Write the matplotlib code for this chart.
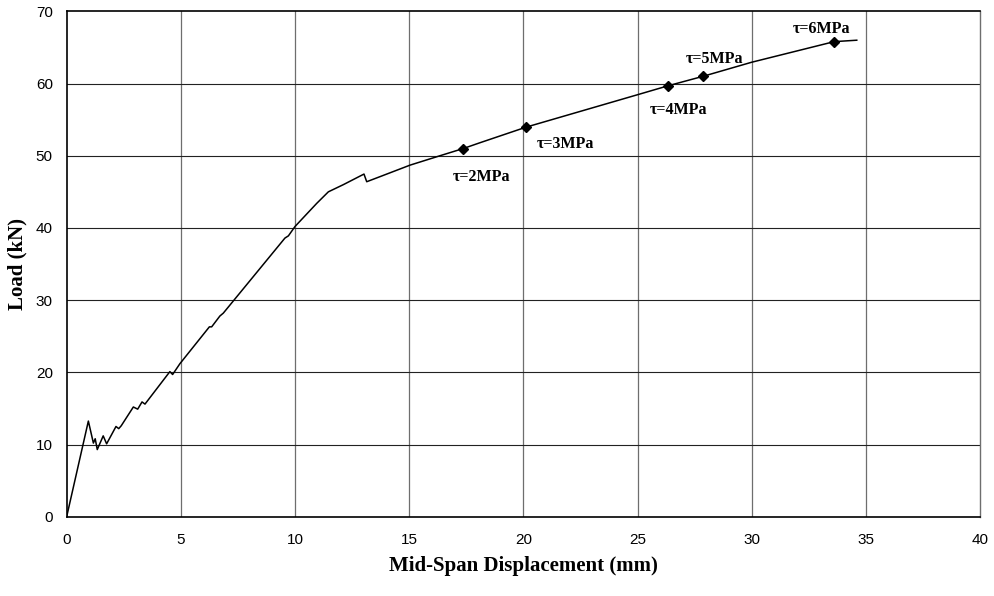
"""Load versus mid-span displacement curve with the interface shear stress levels marked."""
import matplotlib.pyplot as plt

# load-displacement record (mm, kN)
displacement = [0.0, 0.95, 1.17, 1.25, 1.34, 1.60, 1.75, 2.16, 2.28, 2.39, 2.92, 3.11, 3.30,
                3.43, 4.52, 4.64, 4.96, 6.25, 6.35, 6.71, 6.86, 9.56, 9.71, 10.0, 10.95,
                11.46, 12.12, 13.02, 13.14, 13.72, 15.04, 16.35, 17.37, 18.1, 20.12, 25.0,
                26.35, 27.87, 30.0, 33.61, 34.6]
load = [0.0, 13.25, 10.2, 10.8, 9.3, 11.2, 10.1, 12.5, 12.2, 12.6, 15.2, 14.9, 15.9,
        15.6, 20.1, 19.7, 21.2, 26.3, 26.3, 27.8, 28.2, 38.6, 38.9, 40.2, 43.4,
        45.0, 46.0, 47.46, 46.4, 47.1, 48.7, 50.0, 51.0, 51.8, 53.96, 58.45,
        59.7, 61.0, 62.95, 65.8, 66.0]

# shear stress levels reached along the curve
stress_labels = ['τ=2MPa', 'τ=3MPa', 'τ=4MPa', 'τ=5MPa', 'τ=6MPa']
stress_disp = [17.37, 20.12, 26.35, 27.87, 33.61]
stress_load = [51.0, 53.96, 59.7, 61.0, 65.8]
label_offsets = [(-0.45, -3.9), (0.45, -2.3), (-0.8, -3.3), (-0.75, 2.4), (-1.8, 1.8)]

xticks = list(range(0, 41, 5))
yticks = list(range(0, 71, 10))

fig = plt.figure(figsize=(9.95, 5.96), dpi=100)
ax = fig.add_axes([0.067, 0.133, 0.918, 0.848])

for xv in xticks[1:-1]:
    ax.axvline(xv, color='#6e6e6e', lw=0.9, zorder=1)
for yv in yticks[1:-1]:
    ax.axhline(yv, color='#222222', lw=0.8, zorder=1)

ax.plot(displacement, load, color='black', lw=1.1, zorder=3)
ax.plot(stress_disp, stress_load, linestyle='none', marker='D', ms=5,
        color='black', zorder=4)

for lab, xv, yv, (dx, dy) in zip(stress_labels, stress_disp, stress_load, label_offsets):
    ax.text(xv + dx, yv + dy, lab, family='Liberation Serif', fontweight='bold',
            fontsize=11.5, ha='left', va='center', zorder=5)

ax.set_xlim(0, 40)
ax.set_ylim(0, 70)
ax.set_xticks(xticks)
ax.set_yticks(yticks)
ax.tick_params(length=0, pad=12, labelsize=11)
for lbl in ax.get_xticklabels() + ax.get_yticklabels():
    lbl.set_family('Liberation Sans')
ax.tick_params(axis='y', pad=10)

for side in ['left', 'bottom', 'top']:
    ax.spines[side].set_linewidth(1.2)
    ax.spines[side].set_color('black')
ax.spines['right'].set_color('#6e6e6e')
ax.spines['right'].set_linewidth(1.0)

ax.set_xlabel('Mid-Span Displacement (mm)', family='Liberation Serif',
              fontweight='bold', fontsize=15, labelpad=6)
ax.set_ylabel('Load (kN)', family='Liberation Serif', fontweight='bold',
              fontsize=15, labelpad=6)

fig.savefig('out.png', dpi=100)
